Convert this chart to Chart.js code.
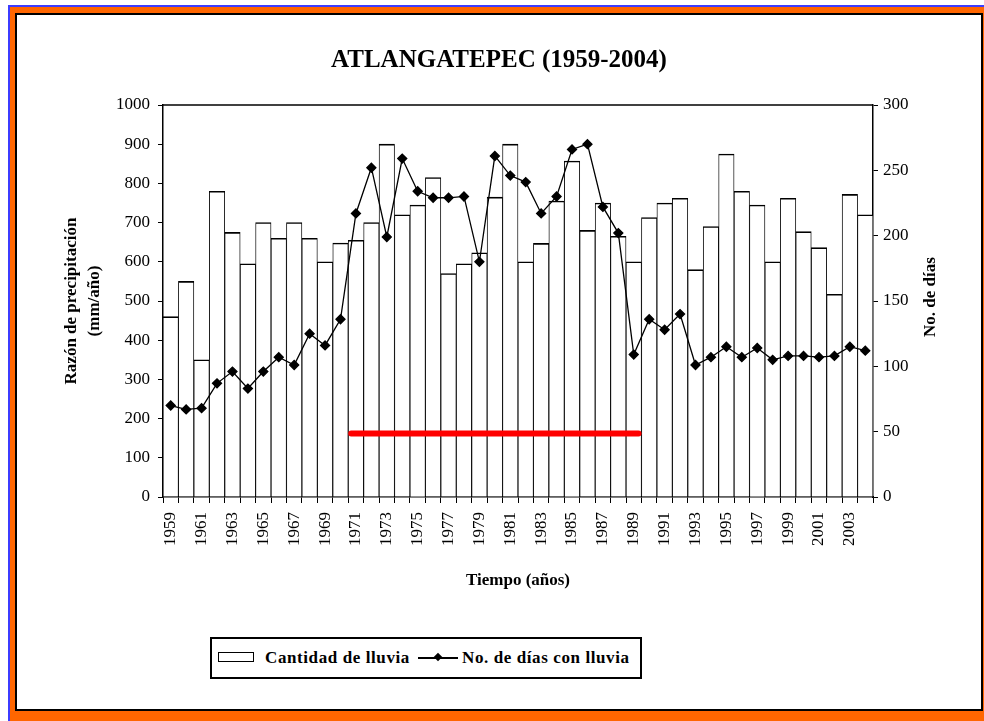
<!DOCTYPE html>
<html>
<head>
<meta charset="utf-8">
<title>ATLANGATEPEC (1959-2004)</title>
<script src="https://cdn.jsdelivr.net/npm/chart.js@4.4.1/dist/chart.umd.min.js"></script>
<style>
  html, body { margin: 0; padding: 0; background: #fff; }
  body { width: 984px; height: 721px; position: relative; overflow: hidden; }
  #blue { position: absolute; left: 8px; top: 5px; width: 1000px; height: 740px; background: #3c3cff; }
  #orange { position: absolute; left: 10px; top: 7px; width: 1000px; height: 740px; background: #ff6600; }
  #panel { position: absolute; left: 15px; top: 13px; width: 964px; height: 694px; background: #fff;
           border: 2px solid #000; }
  #panel canvas { position: absolute; left: 0; top: 0; }
  #legend { position: absolute; left: 210px; top: 637px; width: 428px; height: 38px; background: #fff;
            border: 2px solid #000; font-family: 'Liberation Serif', 'Times New Roman', serif;
            font-weight: bold; font-size: 17px; letter-spacing: 0.6px; color: #000; }
  #legend .txt { position: absolute; top: 8px; line-height: 22px; white-space: nowrap; }
  #legend .box { position: absolute; left: 6px; top: 13px; width: 34px; height: 8px; border: 1.5px solid #000; background: #fff; }
  #legend .ln { position: absolute; left: 206px; top: 18px; width: 40px; height: 1.5px; background: #000; }
  #legend .dia { position: absolute; left: 223px; top: 15px; width: 6px; height: 6px; background: #000; transform: rotate(45deg); }
</style>
</head>
<body>
<div id="blue"></div>
<div id="orange"></div>
<div id="panel"><canvas id="chart" width="964" height="694"></canvas></div>
<div id="legend">
  <div class="box"></div>
  <div class="txt" style="left:53px">Cantidad de lluvia</div>
  <div class="ln"></div>
  <div class="dia"></div>
  <div class="txt" style="left:250px">No. de días con lluvia</div>
</div>
<script>
// data
const years = ['1959', '1960', '1961', '1962', '1963', '1964', '1965', '1966', '1967', '1968',
               '1969', '1970', '1971', '1972', '1973', '1974', '1975', '1976', '1977', '1978',
               '1979', '1980', '1981', '1982', '1983', '1984', '1985', '1986', '1987', '1988',
               '1989', '1990', '1991', '1992', '1993', '1994', '1995', '1996', '1997', '1998',
               '1999', '2000', '2001', '2002', '2003', '2004'];

// Cantidad de lluvia (mm/año)
const rainfall = [460, 550, 350, 780, 675, 595, 700, 660, 700, 660,
                  600, 648, 655, 700, 900, 720, 745, 815, 570, 595,
                  623, 765, 900, 600, 647, 755, 857, 680, 750, 665,
                  600, 713, 750, 762, 580, 690, 875, 780, 745, 600,
                  762, 677, 636, 517, 772, 720];

// No. de días con lluvia
const rainDays = [70, 67, 68, 87, 96, 83, 96, 107, 101, 125,
                  116, 136, 217, 252, 199, 259, 234, 229, 229, 230,
                  180, 261, 246, 241, 217, 230, 266, 270, 222, 202,
                  109, 136, 128, 140, 101, 107, 115, 107, 114, 105,
                  108, 108, 107, 108, 115, 112];

const leftTicks = [0, 100, 200, 300, 400, 500, 600, 700, 800, 900, 1000];
const rightTicks = [0, 50, 100, 150, 200, 250, 300];

// red bar marking the wet period
const markFrom = '1971';
const markTo = '1989';
const markLevel = 162;

const serif = "'Liberation Serif', 'Times New Roman', serif";

const extras = {
    id: 'extras',
    afterDatasetsDraw(chart) {
        const ctx = chart.ctx;
        const area = chart.chartArea;
        const x = chart.scales.x;
        const y = chart.scales.y;
        const half = x.width / years.length / 2;

        // top edge of the plot box
        ctx.save();
        ctx.strokeStyle = '#000';
        ctx.lineWidth = 1.5;
        ctx.beginPath();
        ctx.moveTo(area.left, area.top);
        ctx.lineTo(area.right, area.top);
        ctx.stroke();

        // red period line
        const x1 = x.getPixelForValue(years.indexOf(markFrom)) - half + 3;
        const x2 = x.getPixelForValue(years.indexOf(markTo)) + half - 3;
        const yy = y.getPixelForValue(markLevel);
        ctx.strokeStyle = '#ff0000';
        ctx.lineWidth = 6;
        ctx.lineCap = 'round';
        ctx.beginPath();
        ctx.moveTo(x1, yy);
        ctx.lineTo(x2, yy);
        ctx.stroke();
        ctx.restore();
    },
    afterDraw(chart) {
        // right axis title, reads bottom to top like the left one
        const ctx = chart.ctx;
        const area = chart.chartArea;
        ctx.save();
        ctx.translate(914, (area.top + area.bottom) / 2 - 4);
        ctx.rotate(-Math.PI / 2);
        ctx.font = 'bold 17px ' + serif;
        ctx.fillStyle = '#000';
        ctx.textAlign = 'center';
        ctx.textBaseline = 'middle';
        ctx.fillText('No. de días', 0, 0);
        ctx.restore();
    }
};

new Chart(document.getElementById('chart').getContext('2d'), {
    type: 'bar',
    data: {
        labels: years,
        datasets: [{
            type: 'line',
            label: 'No. de días con lluvia',
            data: rainDays,
            yAxisID: 'y1',
            order: 0,
            borderColor: '#000',
            borderWidth: 1.3,
            pointStyle: 'rectRot',
            pointRadius: 4.5,
            pointBackgroundColor: '#000',
            pointBorderColor: '#000',
            tension: 0
        }, {
            type: 'bar',
            label: 'Cantidad de lluvia',
            data: rainfall,
            yAxisID: 'y',
            order: 1,
            backgroundColor: '#fff',
            borderColor: '#000',
            borderWidth: { top: 1.6, left: 0.9, right: 0.9, bottom: 0 },
            categoryPercentage: 1,
            barPercentage: 1
        }]
    },
    options: {
        responsive: false,
        animation: false,
        layout: { padding: 0 },
        plugins: {
            legend: { display: false },
            tooltip: { enabled: false },
            title: {
                display: true,
                text: 'ATLANGATEPEC (1959-2004)',
                color: '#000',
                font: { family: serif, size: 25, weight: 'bold', lineHeight: 1.2 },
                padding: { top: 31, bottom: 29 }
            }
        },
        scales: {
            x: {
                offset: true,
                grid: { offset: true, drawOnChartArea: false, drawTicks: true, tickLength: 6, color: '#000', lineWidth: 1 },
                border: { display: true, color: '#000', width: 1.5 },
                ticks: {
                    autoSkip: false,
                    maxRotation: 90,
                    minRotation: 90,
                    padding: 9,
                    color: '#000',
                    font: { family: serif, size: 17 },
                    callback: function (v, i) { return i % 2 === 0 ? years[i] : ''; }
                },
                title: {
                    display: true,
                    text: 'Tiempo (años)',
                    color: '#000',
                    font: { family: serif, size: 17, weight: 'bold', lineHeight: 1.2 },
                    padding: { top: 0, bottom: 118 }
                },
                afterFit: function (s) { s.height = 212; }
            },
            y: {
                position: 'left',
                min: 0,
                max: 1000,
                afterBuildTicks: function (s) { s.ticks = leftTicks.map(v => ({ value: v })); },
                grid: { drawOnChartArea: false, drawTicks: true, tickLength: 5, color: '#000', lineWidth: 1 },
                border: { display: true, color: '#000', width: 1.5 },
                ticks: {
                    padding: 8,
                    color: '#000',
                    font: { family: serif, size: 17 },
                    callback: function (v) { return String(v); }
                },
                title: {
                    display: true,
                    text: ['Razón de precipitación', '(mm/año)'],
                    color: '#000',
                    font: { family: serif, size: 17, weight: 'bold', lineHeight: 1.35 },
                    padding: { top: 43, bottom: 0 }
                },
                afterFit: function (s) { s.width = 146; }
            },
            y1: {
                position: 'right',
                min: 0,
                max: 300,
                afterBuildTicks: function (s) { s.ticks = rightTicks.map(v => ({ value: v })); },
                grid: { drawOnChartArea: false, drawTicks: true, tickLength: 5, color: '#000', lineWidth: 1 },
                border: { display: true, color: '#000', width: 1.5 },
                ticks: {
                    padding: 5,
                    color: '#000',
                    font: { family: serif, size: 17 },
                    callback: function (v) { return String(v); }
                },
                afterFit: function (s) { s.width = 108; }
            }
        }
    },
    plugins: [extras]
});
</script>
</body>
</html>
